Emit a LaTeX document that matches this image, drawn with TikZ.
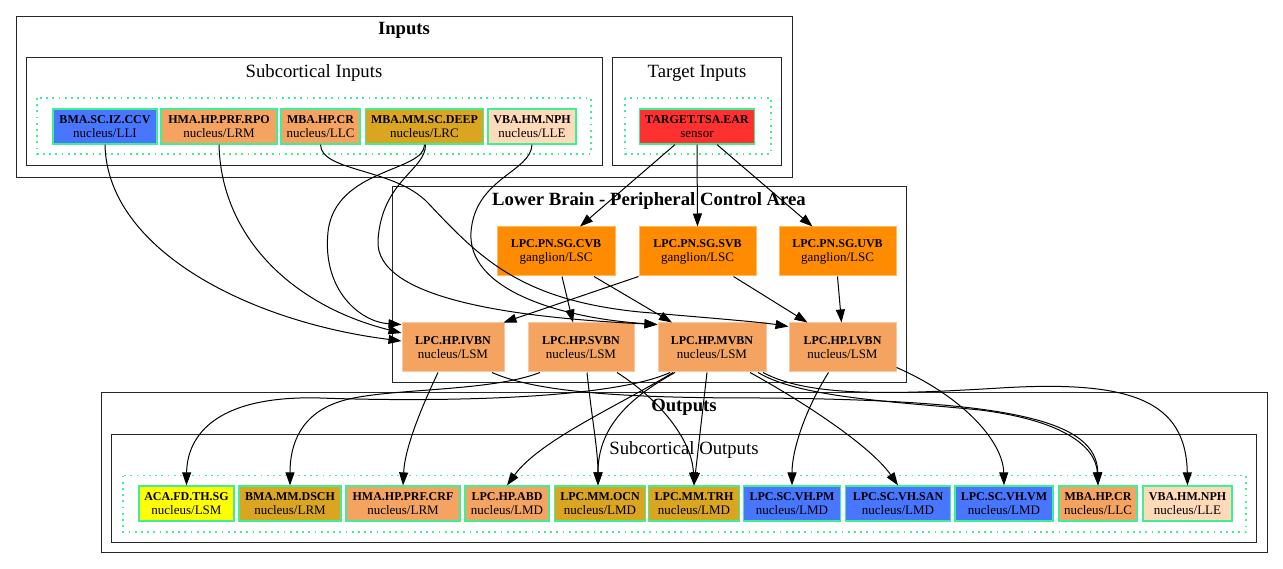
\documentclass[tikz,border=0pt]{standalone}
\usepackage{fontspec}
\setmainfont{Liberation Serif}
\usepackage{xcolor}
\usepackage{tikz}
\usetikzlibrary{arrows.meta,positioning}

\definecolor{mblue}{HTML}{4876FF}
\definecolor{msandy}{HTML}{F4A460}
\definecolor{mgold}{HTML}{DAA520}
\definecolor{mpeach}{HTML}{FFDAB9}
\definecolor{mred}{HTML}{FF3030}
\definecolor{morange}{HTML}{FF8C00}
\definecolor{myellow}{HTML}{FFFF00}
\definecolor{mgreen}{RGB}{60,240,150}

\newcommand{\nlab}[2]{{\fontsize{12}{14}\selectfont\bfseries #1}\\#2}

\tikzset{
  nd/.style={rectangle,draw=mgreen,line width=1.2pt,inner sep=0pt,minimum height=35pt,
    align=center,font=\fontsize{13}{14}\selectfont},
  lb/.style={rectangle,draw=#1!60!white,fill=#1,line width=1pt,inner sep=0pt,minimum height=49pt,
    align=center,font=\fontsize{13}{14}\selectfont},
  clus/.style={draw=black!85,line width=0.9pt},
  dotclus/.style={draw=mgreen,line width=1.8pt,dash pattern=on 1.8pt off 4.4pt},
  ttl/.style={anchor=base,inner sep=0pt,font=\fontsize{18.7}{20}\selectfont},
  link/.style={-{Triangle[length=13pt,width=9pt]},line width=1pt,black}
}

\begin{document}
\begin{tikzpicture}[x=1pt,y=-1pt]
	\fill[white] (0,0) rectangle (1283,569);
	\useasboundingbox (0,0) rectangle (1283,569);

	% clusters
	\draw[clus] (16,16) rectangle (792,177);
	\node[ttl] (tinputs) at (404,35) {\bfseries Inputs};
	\draw[clus] (26,57) rectangle (602,165);
	\node[ttl] (tsubin) at (314,78) {Subcortical Inputs};
	\draw[dotclus] (37,98) rectangle (591,154);
	\draw[clus] (612,57) rectangle (781,165);
	\node[ttl] (ttarget) at (697,78) {Target Inputs};
	\draw[dotclus] (625,98) rectangle (771,154);

	\draw[clus] (392,186) rectangle (906,382);
	\node[ttl] (tlower) at (649,206) {\bfseries Lower Brain - Peripheral Control Area};

	\draw[clus] (101,392.5) rectangle (1267,552.5);
	\node[ttl] (toutputs) at (684,411) {\bfseries Outputs};
	\draw[clus] (111.5,434) rectangle (1256,542.5);
	\node[ttl] (tsubout) at (684,454) {Subcortical Outputs};
	\draw[dotclus] (123,475.5) rectangle (1246,532);

	% inputs
	\node[nd,fill=mblue,minimum width=104pt] (inccv) at (105,126.5) {\nlab{BMA.SC.IZ.CCV}{nucleus/LLI}};
	\node[nd,fill=msandy,minimum width=116pt] (inrpo) at (219,126.5) {\nlab{HMA.HP.PRF.RPO}{nucleus/LRM}};
	\node[nd,fill=msandy,minimum width=79pt] (incr) at (320.5,126.5) {\nlab{MBA.HP.CR}{nucleus/LLC}};
	\node[nd,fill=mgold,minimum width=118pt] (indeep) at (424.5,126.5) {\nlab{MBA.MM.SC.DEEP}{nucleus/LRC}};
	\node[nd,fill=mpeach,minimum width=88pt] (innph) at (532,126.5) {\nlab{VBA.HM.NPH}{nucleus/LLE}};
	\node[nd,fill=mred,minimum width=115pt] (tgtear) at (697,126.5) {\nlab{TARGET.TSA.EAR}{sensor}};

	% lower brain
	\node[lb=morange,minimum width=118pt] (cvb) at (556,251.5) {\nlab{LPC.PN.SG.CVB}{ganglion/LSC}};
	\node[lb=morange,minimum width=117pt] (svb) at (697.5,251.5) {\nlab{LPC.PN.SG.SVB}{ganglion/LSC}};
	\node[lb=morange,minimum width=117pt] (uvb) at (837.5,251.5) {\nlab{LPC.PN.SG.UVB}{ganglion/LSC}};
	\node[lb=msandy,minimum width=102pt] (ivbn) at (453,347.5) {\nlab{LPC.HP.IVBN}{nucleus/LSM}};
	\node[lb=msandy,minimum width=106pt] (svbn) at (581,347.5) {\nlab{LPC.HP.SVBN}{nucleus/LSM}};
	\node[lb=msandy,minimum width=108pt] (mvbn) at (712,347.5) {\nlab{LPC.HP.MVBN}{nucleus/LSM}};
	\node[lb=msandy,minimum width=107pt] (lvbn) at (842.5,347.5) {\nlab{LPC.HP.LVBN}{nucleus/LSM}};

	% outputs
	\node[nd,fill=myellow,minimum width=95pt] (osg) at (186.5,503.5) {\nlab{ACA.FD.TH.SG}{nucleus/LSM}};
	\node[nd,fill=mgold,minimum width=102pt] (odsch) at (290,503.5) {\nlab{BMA.MM.DSCH}{nucleus/LRM}};
	\node[nd,fill=msandy,minimum width=114pt] (ocrf) at (403,503.5) {\nlab{HMA.HP.PRF.CRF}{nucleus/LRM}};
	\node[nd,fill=msandy,minimum width=84pt] (oabd) at (507,503.5) {\nlab{LPC.HP.ABD}{nucleus/LMD}};
	\node[nd,fill=mgold,minimum width=91pt] (oocn) at (600,503.5) {\nlab{LPC.MM.OCN}{nucleus/LMD}};
	\node[nd,fill=mgold,minimum width=91pt] (otrh) at (694,503.5) {\nlab{LPC.MM.TRH}{nucleus/LMD}};
	\node[nd,fill=mblue,minimum width=97pt] (opm) at (792,503.5) {\nlab{LPC.SC.VH.PM}{nucleus/LMD}};
	\node[nd,fill=mblue,minimum width=105pt] (osan) at (898,503.5) {\nlab{LPC.SC.VH.SAN}{nucleus/LMD}};
	\node[nd,fill=mblue,minimum width=98pt] (ovm) at (1004,503.5) {\nlab{LPC.SC.VH.VM}{nucleus/LMD}};
	\node[nd,fill=msandy,minimum width=78pt] (ocr) at (1098,503.5) {\nlab{MBA.HP.CR}{nucleus/LLC}};
	\node[nd,fill=mpeach,minimum width=89pt] (onph) at (1187.5,503.5) {\nlab{VBA.HM.NPH}{nucleus/LLE}};

	% inputs to lower brain
	\draw[link] ([xshift=-22pt]tgtear.south) -- ([xshift=24pt]cvb.north);
	\draw[link] (tgtear.south) -- (svb.north);
	\draw[link] ([xshift=20pt]tgtear.south) -- ([xshift=-25pt]uvb.north);
	\draw[link] (inccv.south) .. controls (107,250) and (250,322) .. ([yshift=6.5pt]ivbn.west);
	\draw[link] (inrpo.south) .. controls (221,235) and (290,305) .. ([yshift=14.5pt]ivbn.west);
	\draw[link] (indeep.south) .. controls (425,172) and (335,168) .. (328,232)
		.. controls (322,290) and (360,322) .. ([yshift=-2pt]ivbn.north west);
	\draw[link] ([xshift=1pt]indeep.south) .. controls (426,170) and (382,180) .. (378,240)
		.. controls (374,300) and (520,318) .. ([yshift=-2pt]mvbn.north west);
	\draw[link] (innph.south) .. controls (531,172) and (475,178) .. (471,232)
		.. controls (467,290) and (560,318) .. ([yshift=-2pt]mvbn.north west);
	\draw[link] (incr.south) .. controls (321,172) and (395,168) .. (428,203)
		.. controls (480,258) and (520,300) .. (640,312)
		.. controls (710,318) and (760,322) .. ([yshift=-4pt]lvbn.north west);

	% inside lower brain
	\draw[link] ([xshift=6pt]cvb.south) -- ([xshift=-8pt]svbn.north);
	\draw[link] ([xshift=38pt]cvb.south) -- ([xshift=-40pt]mvbn.north);
	\draw[link] ([xshift=-59pt]svb.south) -- ([xshift=-1pt]ivbn.north east);
	\draw[link] ([xshift=36pt]svb.south) -- ([xshift=-35pt]lvbn.north);
	\draw[link] (uvb.south) -- ([xshift=-1pt]lvbn.north);

	% lower brain to outputs
	\draw[link] ([xshift=-15pt]ivbn.south) .. controls (425,400) and (405,445) .. (ocrf.north);
	\draw[link] ([xshift=39pt]ivbn.south) .. controls (540,394) and (640,398) .. (760,398)
		.. controls (1010,400) and (1097,420) .. (ocr.north);
	\draw[link] ([xshift=-42pt]mvbn.south) .. controls (610,400) and (430,402) .. (320,398)
		.. controls (210,395) and (187,440) .. (osg.north);
	\draw[link] ([xshift=-41pt]svbn.south) .. controls (490,392) and (390,388) .. (345,400)
		.. controls (300,412) and (290,445) .. (odsch.north);
	\draw[link] ([xshift=-39pt]mvbn.south) .. controls (620,405) and (540,440) .. (oabd.north);
	\draw[link] ([xshift=6pt]svbn.south) .. controls (592,420) and (598,450) .. ([xshift=-2pt]oocn.north);
	\draw[link] ([xshift=-37pt]mvbn.south) .. controls (625,400) and (598,430) .. ([xshift=-2pt]oocn.north);
	\draw[link] ([xshift=36pt]svbn.south) .. controls (660,400) and (692,440) .. (otrh.north);
	\draw[link] ([xshift=-5pt]mvbn.south) -- (otrh.north);
	\draw[link] ([xshift=-14pt]lvbn.south) .. controls (805,410) and (792,450) .. (opm.north);
	\draw[link] ([xshift=38pt]mvbn.south) .. controls (800,400) and (870,445) .. (osan.north);
	\draw[link] ([yshift=-20pt]lvbn.east) .. controls (960,395) and (1003,440) .. (ovm.north);
	\draw[link] ([xshift=46pt]mvbn.south) .. controls (800,398) and (900,402) .. (980,410)
		.. controls (1060,420) and (1096,445) .. (ocr.north);
	\draw[link] ([xshift=51pt]mvbn.south) .. controls (810,398) and (900,394) .. (1000,388)
		.. controls (1130,380) and (1186,400) .. (onph.north);
\end{tikzpicture}
\end{document}
